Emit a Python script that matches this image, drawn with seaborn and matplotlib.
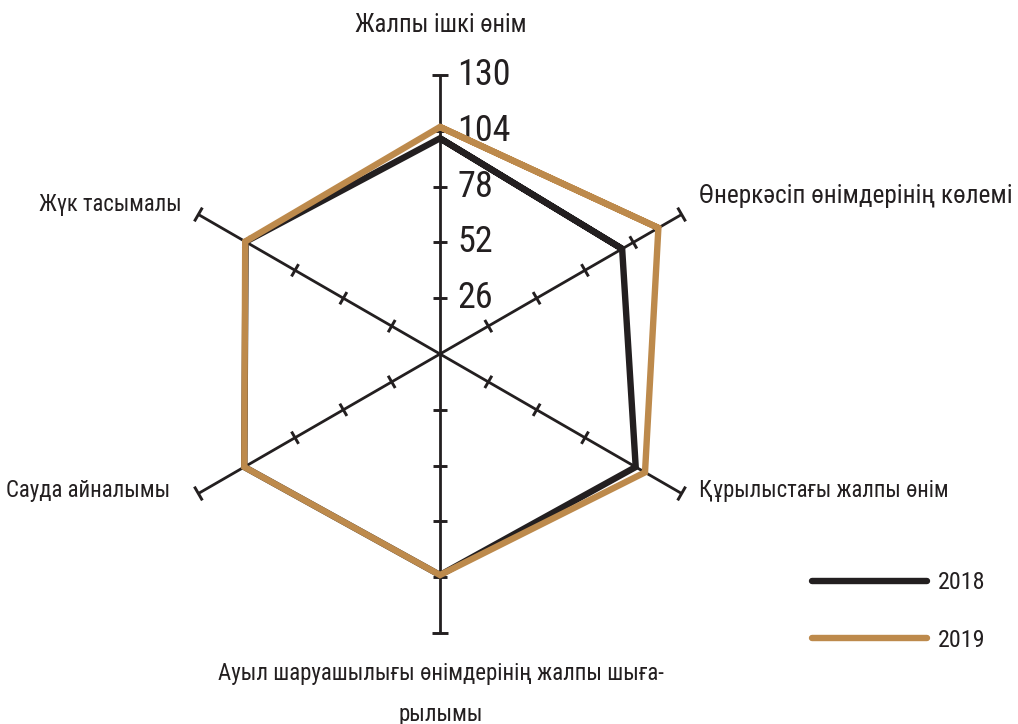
import numpy as np
import pandas as pd
import matplotlib
matplotlib.use("Agg")
import matplotlib.pyplot as plt
import seaborn as sns
from matplotlib.lines import Line2D
from matplotlib import font_manager

# ---- data ----
categories = [
    "Жалпы ішкі өнім",
    "Өнеркəсіп өнімдерінің көлемі",
    "Құрылыстағы жалпы өнім",
    "Ауыл шаруашылығы өнімдерінің жалпы шыға-\nрылымы",
    "Сауда айналымы",
    "Жүк тасымалы",
]
values_2018 = [100.5, 98.0, 105.3, 103.0, 105.3, 104.6]
values_2019 = [105.8, 117.5, 110.3, 103.0, 105.3, 104.8]
series_names = ["2018", "2019"]
tick_values = [26, 52, 78, 104, 130]
tick_labels = ["26", "52", "78", "104", "130"]
r_max = 130

colors = {"2018": "#231f20", "2019": "#bd8a4c"}
text_color = "#231f20"

sns.set_theme(style="white")
installed = {f.name for f in font_manager.fontManager.ttflist}
candidates = ["Roboto Condensed", "Liberation Sans Narrow", "Open Sans Condensed",
              "Noto Sans Condensed", "Roboto", "DejaVu Sans"]
fams = [c for c in candidates if c in installed]
if "DejaVu Sans" not in fams:
    fams.append("DejaVu Sans")
plt.rcParams["font.family"] = fams

W, H = 1018, 724
fig = plt.figure(figsize=(W / 100, H / 100), dpi=100)
ax = fig.add_axes([0, 0, 1, 1])
ax.set_axis_off()

# pixel layout: center at (440, 354), r_max -> 279 px
cx, cy = 440, 354
ppu = 279 / r_max
ax.set_xlim(-cx / ppu, (W - cx) / ppu)
ax.set_ylim(-(H - cy) / ppu, cy / ppu)

angles = np.deg2rad([90, 30, -30, -90, 210, 150])

# spokes
for a in angles:
    ux, uy = np.cos(a), np.sin(a)
    px, py = -uy, ux
    ax.plot([0, r_max * ux], [0, r_max * uy], color=text_color, lw=2.0,
            solid_capstyle="butt", zorder=1)
    for t in tick_values:
        hl = 3.7 if t == r_max else 3.3
        ax.plot([t * ux - hl * px, t * ux + hl * px],
                [t * uy - hl * py, t * uy + hl * py],
                color=text_color, lw=2.1, solid_capstyle="butt", zorder=1)

# tick labels on the vertical axis
for t, lab in zip(tick_values, tick_labels):
    ax.text(17 / ppu, t, lab, ha="left", va="center", fontsize=26,
            color=text_color)

# data polygons
rows = []
for name, vals in zip(series_names, [values_2018, values_2019]):
    idx = list(range(len(vals))) + [0, 1]
    for order, i in enumerate(idx):
        rows.append({"series": name, "order": order,
                     "x": vals[i] * np.cos(angles[i]),
                     "y": vals[i] * np.sin(angles[i])})
df = pd.DataFrame(rows)

sns.lineplot(data=df, x="x", y="y", hue="series", units="series",
             estimator=None, sort=False, palette=colors, lw=4.6,
             solid_joinstyle="miter", solid_capstyle="butt", ax=ax,
             legend=False, zorder=3)

# category labels
lab_pos = [
    (441, 25, "center", "center", 17.8),
    (699, 196, "left", "center", 18.2),
    (699, 490, "left", "center", 16.3),
    (441, 694, "center", "center", 16.5),
    (170, 490, "right", "center", 16.5),
    (182, 205, "right", "center", 16.3),
]
for cat, (px_, py_, ha, va, fs) in zip(categories, lab_pos):
    ax.text((px_ - cx) / ppu, (cy - py_) / ppu, cat, ha=ha, va=va,
            fontsize=fs, color=text_color, linespacing=2.0)

# legend
handles = [Line2D([0], [0], color=colors[n], lw=4.6, solid_capstyle="round")
           for n in series_names]
leg = ax.legend(handles, series_names, loc="upper left",
                bbox_to_anchor=(812 / W, 1 - 571 / H),
                bbox_transform=fig.transFigure, frameon=False,
                fontsize=17.3, handlelength=4.8, handletextpad=0.45,
                labelspacing=1.45, borderpad=0, borderaxespad=0)
for txt in leg.get_texts():
    txt.set_color(text_color)

fig.savefig("out.png", dpi=100, facecolor="white")
